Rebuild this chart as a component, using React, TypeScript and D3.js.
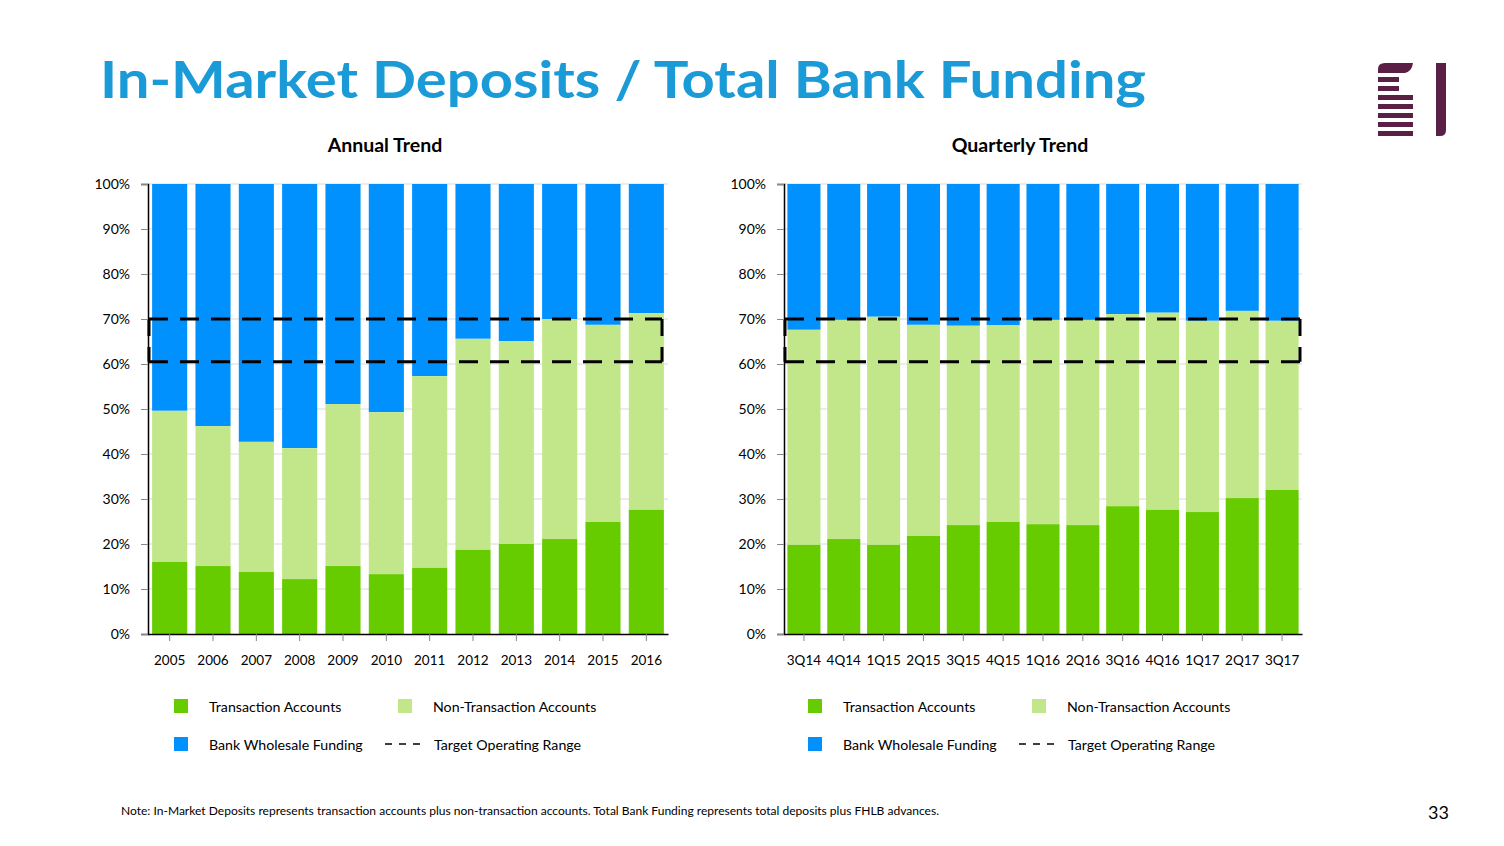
import React, { useEffect, useRef } from 'react';
import * as d3 from 'd3';

const annualYears = ['2005', '2006', '2007', '2008', '2009', '2010', '2011', '2012', '2013', '2014', '2015', '2016'];
const annualTransaction = [16.0, 15.1, 13.8, 12.2, 15.1, 13.3, 14.7, 18.7, 20.0, 21.1, 24.9, 27.6];
const annualNonTransaction = [33.6, 31.1, 28.9, 29.1, 36.0, 36.0, 42.6, 46.9, 45.1, 48.9, 43.8, 43.7];

const quarters = ['3Q14', '4Q14', '1Q15', '2Q15', '3Q15', '4Q15', '1Q16', '2Q16', '3Q16', '4Q16', '1Q17', '2Q17', '3Q17'];
const quarterlyTransaction = [19.8, 21.1, 19.8, 21.8, 24.2, 24.9, 24.4, 24.2, 28.4, 27.6, 27.1, 30.2, 32.0];
const quarterlyNonTransaction = [47.8, 48.7, 50.7, 46.9, 44.3, 43.7, 45.4, 45.6, 42.7, 43.8, 42.5, 41.6, 37.6];

const targetRange = [60.5, 70];
const yTicks = [0, 10, 20, 30, 40, 50, 60, 70, 80, 90, 100];

const C_TRANS = '#66CC00';
const C_NONTRANS = '#C2E78A';
const C_WHOLESALE = '#0091FF';
const FONT = 'Lato, "Open Sans", sans-serif';

interface PanelSpec {
  title: string;
  cats: string[];
  trans: number[];
  nonTrans: number[];
  left: number;
  right: number;
  boxRight: number;
  padding: number;
  legendX: number;
}

export default function App() {
  const svgRef = useRef<SVGSVGElement>(null);

  useEffect(() => {
    if (!svgRef.current) return;
    document.body.style.margin = '0';
    const svg = d3.select(svgRef.current);
    svg.selectAll('*').remove();

    // title
    svg.append('text')
      .attr('x', 100).attr('y', 98)
      .attr('font-family', FONT)
      .attr('font-weight', 'bold')
      .attr('font-size', '52px')
      .attr('fill', '#1A9AD7')
      .attr('textLength', 1046)
      .attr('lengthAdjust', 'spacingAndGlyphs')
      .text('In-Market Deposits / Total Bank Funding');

    // logo
    const logo = svg.append('g').attr('fill', '#5A1F45');
    logo.append('path').attr('d', 'M1378,73 L1378,69 Q1378,63 1385,63 L1413,63 Q1412,71 1405,73 Z');
    [77, 86, 95, 104, 113, 122, 131].forEach((y, i) => {
      logo.append('rect').attr('x', 1378).attr('y', y).attr('width', i < 2 ? 21 : 35).attr('height', 5);
    });
    logo.append('path').attr('d', 'M1436,63 L1446,63 L1446,130 Q1446,136 1440,136 L1436,136 Z');

    const y = d3.scaleLinear().domain([0, 100]).range([634, 184]);

    const panels: PanelSpec[] = [
      { title: 'Annual Trend', cats: annualYears, trans: annualTransaction, nonTrans: annualNonTransaction, left: 148, right: 668, boxRight: 662, padding: 0.19, legendX: 174 },
      { title: 'Quarterly Trend', cats: quarters, trans: quarterlyTransaction, nonTrans: quarterlyNonTransaction, left: 784, right: 1302, boxRight: 1300, padding: 0.17, legendX: 808 },
    ];

    panels.forEach(p => {
      const g = svg.append('g');
      const x = d3.scaleBand<string>().domain(p.cats).range([p.left, p.right]).paddingInner(p.padding).paddingOuter(p.padding / 2);

      g.append('text')
        .attr('x', (p.left + p.right) / 2 - 23).attr('y', 152)
        .attr('text-anchor', 'middle')
        .attr('font-family', FONT).attr('font-weight', 'bold').attr('font-size', '19.5px')
        .attr('fill', '#000')
        .text(p.title);

      // gridlines
      g.selectAll('.grid').data(yTicks.slice(1)).enter().append('line')
        .attr('x1', p.left).attr('x2', p.right)
        .attr('y1', d => y(d)).attr('y2', d => y(d))
        .attr('stroke', '#D9D9D9').attr('stroke-width', 1);

      const rows = p.cats.map((c, i) => ({ c, t: p.trans[i], n: p.nonTrans[i] }));
      const bar = g.selectAll('.bar').data(rows).enter().append('g');
      bar.append('rect')
        .attr('x', d => x(d.c)!).attr('width', x.bandwidth())
        .attr('y', y(100)).attr('height', d => y(d.t + d.n) - y(100))
        .attr('fill', C_WHOLESALE);
      bar.append('rect')
        .attr('x', d => x(d.c)!).attr('width', x.bandwidth())
        .attr('y', d => y(d.t + d.n)).attr('height', d => y(d.t) - y(d.t + d.n))
        .attr('fill', C_NONTRANS);
      bar.append('rect')
        .attr('x', d => x(d.c)!).attr('width', x.bandwidth())
        .attr('y', d => y(d.t)).attr('height', d => y(0) - y(d.t))
        .attr('fill', C_TRANS);

      // target range box, drawn side by side so each edge starts with a dash
      const bx0 = p.left + 1;
      const bx1 = p.boxRight;
      const by0 = y(targetRange[1]);
      const by1 = y(targetRange[0]);
      const box = g.append('g').attr('stroke', '#000').attr('stroke-width', 3).attr('fill', 'none');
      box.append('line').attr('x1', bx0).attr('x2', bx1).attr('y1', by0).attr('y2', by0).attr('stroke-dasharray', '19,12');
      box.append('line').attr('x1', bx0).attr('x2', bx1).attr('y1', by1).attr('y2', by1).attr('stroke-dasharray', '19,12');
      box.append('line').attr('x1', bx0).attr('x2', bx0).attr('y1', by0).attr('y2', by1).attr('stroke-dasharray', '17,11,15');
      box.append('line').attr('x1', bx1).attr('x2', bx1).attr('y1', by0).attr('y2', by1).attr('stroke-dasharray', '17,11,15');

      // y axis
      const yAxis = g.append('g').attr('transform', `translate(${p.left},0)`)
        .call(d3.axisLeft(y).tickValues(yTicks).tickSize(7).tickPadding(11).tickFormat(d => `${d}%`));
      yAxis.select('.domain').attr('stroke', '#000').attr('stroke-width', 1.5);
      yAxis.selectAll('.tick line').attr('stroke', '#888');
      yAxis.selectAll('text').attr('font-family', FONT).attr('font-size', '14px').attr('fill', '#000');

      // x axis
      const xAxis = g.append('g').attr('transform', `translate(0,${y(0)})`)
        .call(d3.axisBottom(x).tickSize(7).tickPadding(14).tickSizeOuter(0));
      xAxis.select('.domain').attr('stroke', '#000').attr('stroke-width', 1.5);
      xAxis.selectAll('.tick line').attr('stroke', '#888');
      xAxis.selectAll('text').attr('font-family', FONT).attr('font-size', '13.5px').attr('fill', '#000');

      // legend
      const lg = g.append('g').attr('font-family', FONT).attr('font-size', '14.2px').attr('fill', '#000');
      const items = [
        { label: 'Transaction Accounts', color: C_TRANS, dx: 0, dy: 0 },
        { label: 'Non-Transaction Accounts', color: C_NONTRANS, dx: 224, dy: 0 },
        { label: 'Bank Wholesale Funding', color: C_WHOLESALE, dx: 0, dy: 38 },
      ];
      items.forEach(it => {
        lg.append('rect').attr('x', p.legendX + it.dx).attr('y', 699 + it.dy).attr('width', 14).attr('height', 14).attr('fill', it.color);
        lg.append('text').attr('x', p.legendX + it.dx + 35).attr('y', 712 + it.dy).text(it.label);
      });
      lg.append('line')
        .attr('x1', p.legendX + 211).attr('x2', p.legendX + 252)
        .attr('y1', 744).attr('y2', 744)
        .attr('stroke', '#000').attr('stroke-width', 1.5).attr('stroke-dasharray', '7,7');
      lg.append('text').attr('x', p.legendX + 260).attr('y', 750).text('Target Operating Range');
    });

    svg.append('text')
      .attr('x', 121).attr('y', 815)
      .attr('font-family', FONT).attr('font-size', '11px').attr('fill', '#000')
      .attr('textLength', 818)
      .attr('lengthAdjust', 'spacingAndGlyphs')
      .text('Note: In-Market Deposits represents transaction accounts plus non-transaction accounts. Total Bank Funding represents total deposits plus FHLB advances.');

    svg.append('text')
      .attr('x', 1449).attr('y', 819)
      .attr('text-anchor', 'end')
      .attr('font-family', FONT).attr('font-size', '18px').attr('fill', '#000')
      .text('33');
  }, []);

  return (
    <svg ref={svgRef} width={1504} height={846} style={{ display: 'block', background: '#fff' }}></svg>
  );
}
